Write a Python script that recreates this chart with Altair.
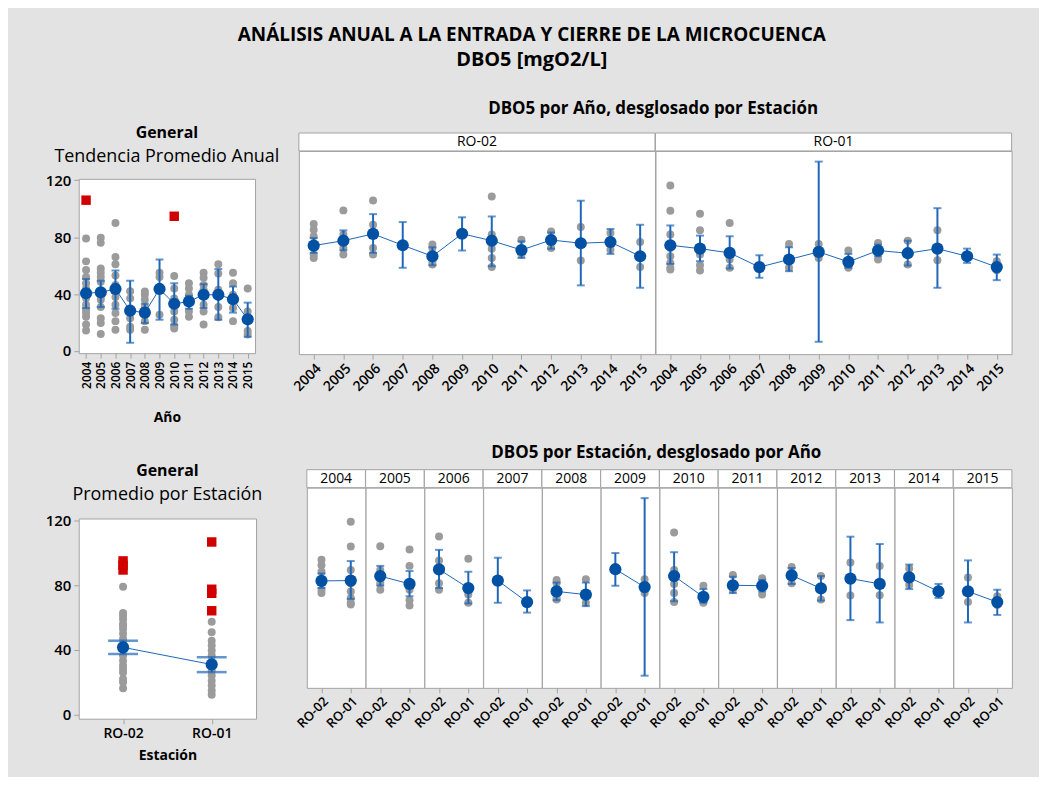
import altair as alt
import pandas as pd

# ---------------- data ----------------
YEARS = ["2004", "2005", "2006", "2007", "2008", "2009",
         "2010", "2011", "2012", "2013", "2014", "2015"]
STATIONS = ["RO-02", "RO-01"]

# General trend per year (top-left panel)
GEN_MEAN = [40.6, 41.3, 43.6, 28.3, 27.0, 43.6, 33.2, 34.8, 39.5, 39.5, 36.4, 22.3]
GEN_LO = [30.2, 30.9, 29.7, 5.8, 19.7, 22.0, 18.6, 29.7, 30.2, 22.0, 27.0, 10.0]
GEN_HI = [50.6, 49.4, 56.6, 49.4, 33.2, 64.3, 47.6, 38.8, 47.0, 57.6, 45.3, 34.0]
GEN_POINTS = [
    [79, 63, 57, 52, 47.6, 44, 42, 37, 32.5, 29, 26.7, 24, 18.6, 14.4],
    [79.6, 76, 58, 55, 52, 48.7, 42, 38, 36, 31, 23, 19.7, 12],
    [90, 66, 61, 53, 46.4, 38, 32.5, 26.7, 21, 15],
    [42, 37, 30, 23, 17, 15],
    [41.8, 39.5, 36, 31, 27.8, 21, 15],
    [55, 52, 25.5],
    [52.7, 44, 37, 32.5, 27.8, 22, 17.4, 15.8],
    [47.6, 44, 39.5, 34.8, 27.8, 24],
    [55, 51.5, 46.4, 43, 32.5, 27.8, 18.6],
    [61, 54.5, 43, 31, 23.7],
    [55, 47.6, 39.5, 30.2, 21],
    [44, 27.8, 21, 14, 11.6],
]
GEN_OUT_YEAR = ["2004", "2010"]
GEN_OUT_VALUE = [106, 94.7]

# Per station and year (right panels)
RO02_MEAN = [64.1, 67.0, 71.0, 64.3, 57.8, 71.1, 67.0, 61.5, 67.4, 65.5, 66.2, 57.8]
RO02_LO = [59.8, 61.3, 59.8, 51.0, 52.5, 61.2, 51.9, 56.8, 62.3, 40.6, 59.2, 39.2]
RO02_HI = [68.6, 73.1, 82.7, 78.0, 63.1, 80.8, 81.3, 66.6, 71.9, 90.6, 73.9, 76.4]
RO02_POINTS = [
    [76.8, 73.5, 69.6, 58.8, 56.8],
    [84.9, 70.6, 62.7, 58.8],
    [90.7, 76.4, 62.7, 58.8],
    [],
    [64.7, 62.7, 54.5, 52.9],
    [],
    [93.1, 70.6, 62.3, 56.8, 51.4],
    [67.6, 58.8],
    [72.5, 62.7],
    [75.1, 55.3],
    [71.5, 61.7],
    [66.2, 51.4],
]
RO01_MEAN = [64.3, 62.3, 59.8, 51.4, 55.9, 60.4, 54.5, 61.2, 59.6, 62.3, 57.8, 51.4]
RO01_LO = [53.3, 54.9, 50.6, 45.1, 49.0, 7.3, 51.0, 57.8, 52.3, 39.2, 53.9, 43.7]
RO01_HI = [76.0, 70.0, 69.6, 58.4, 63.1, 113.7, 59.2, 64.7, 67.0, 86.2, 62.3, 58.8]
RO01_POINTS = [
    [99.6, 84.7, 70.6, 62.7, 57.8, 53.9, 51.0, 50.0],
    [82.9, 73.1, 60.8, 58.8, 52.5, 49.4],
    [77.4, 55.9, 51.0],
    [],
    [65.1, 51.0],
    [65.1, 56.8],
    [61.2, 51.0],
    [65.7, 55.9],
    [67.0, 52.9],
    [73.1, 55.5],
    [],
    [54.9, 49.6],
]

# General per station (bottom-left panel)
ST_MEAN = [41.6, 31.0]
ST_LO = [37.5, 26.3]
ST_HI = [45.7, 35.5]
ST_POINTS = [
    [79, 62.8, 61, 59, 56, 55, 53, 50, 46.8, 43.7, 40.6, 36.5, 33.4, 30.4,
     28.3, 26, 22, 20, 16.4],
    [57.4, 50.9, 45.7, 42.7, 39.6, 36.5, 33.4, 30.4, 27.3, 24.2, 21, 18, 15, 12.3],
]
ST_OUT = [[95, 92.3, 89.4], [106.7, 77.5, 75, 64.2]]

# ---------------- style ----------------
FONT = "Open Sans"
BG = "#e3e3e3"
GRAY = "#9b9b9b"
RED = "#d10000"
BLUE = "#0050a4"
BAR = "#1f67b8"
FRAME = "#a3a3a3"


def points_df(groups, lists, key):
    rows = []
    for g, vals in zip(groups, lists):
        for v in vals:
            rows.append({key: g, "v": v})
    return pd.DataFrame(rows, columns=[key, "v"])


def summary_df(groups, mean, lo, hi, key):
    return pd.DataFrame({key: groups, "mean": mean, "lo": lo, "hi": hi})


def panel(pts, outs, summ, key, xdom, ydom, xaxis, yaxis, cap, width, height,
          header=None, title=None, capw=2):
    xs = alt.Scale(type="point", domain=xdom, padding=0.5)
    ys = alt.Scale(domain=ydom, nice=False, zero=False)
    X = alt.X(f"{key}:N", scale=xs, axis=xaxis)

    def Y(f):
        return alt.Y(f"{f}:Q", scale=ys, axis=yaxis)

    layers = []
    if header is not None:
        hdf = pd.DataFrame({"lab": [header]})
        layers.append(alt.Chart(hdf).mark_rect(fill="white", stroke=FRAME, strokeWidth=1).encode(
            x=alt.value(0), x2=alt.value(width), y=alt.value(-18), y2=alt.value(0)))
        layers.append(alt.Chart(hdf).mark_text(font=FONT, fontSize=14, fontWeight="normal",
                                               color="black", baseline="middle", align="center").encode(
            x=alt.value(width / 2), y=alt.value(-9), text="lab:N"))
    if len(pts):
        layers.append(alt.Chart(pts).mark_circle(color=GRAY, size=64, opacity=1).encode(x=X, y=Y("v")))
    if outs is not None and len(outs):
        layers.append(alt.Chart(outs).mark_square(color=RED, size=90, opacity=1).encode(x=X, y=Y("v")))
    base = alt.Chart(summ)
    layers.append(base.mark_rule(color=BAR, strokeWidth=2).encode(x=X, y=Y("lo"), y2="hi:Q"))
    layers.append(base.mark_tick(color=BAR, thickness=capw, size=cap).encode(x=X, y=Y("lo")))
    layers.append(base.mark_tick(color=BAR, thickness=capw, size=cap).encode(x=X, y=Y("hi")))
    layers.append(base.mark_line(color=BAR, strokeWidth=1).encode(x=X, y=Y("mean")))
    layers.append(base.mark_circle(color=BLUE, size=150, opacity=1).encode(x=X, y=Y("mean")))
    ch = alt.layer(*layers).properties(width=width, height=height)
    if title is not None:
        ch = ch.properties(title=title)
    return ch


def spacer():
    # invisible 1x1 element used only to push the left panels down
    return alt.Chart(pd.DataFrame({"a": [0]})).mark_point(opacity=0).encode(
        x=alt.value(0), y=alt.value(0)).properties(
        width=1, height=1, view=alt.ViewBackground(stroke="transparent", fill="transparent"))


yaxis_left = alt.Axis(values=[0, 40, 80, 120], title="", labelFontSize=15, labelFontWeight=600,
                      tickSize=5, tickColor=FRAME, domain=False, grid=False, labelPadding=3)


def left_title(sub, offset):
    return alt.TitleParams("General", subtitle=sub, fontSize=16, fontWeight="bold",
                           subtitleFontSize=18, subtitleColor="black", subtitlePadding=7,
                           anchor="middle", offset=offset, font=FONT, subtitleFont=FONT)


# top-left
tl_x_axis = alt.Axis(title="Año", labelAngle=-90, labelFontSize=12, labelFontWeight=600,
                     titleFontSize=14, titleFontWeight="bold", tickSize=5, tickColor=FRAME,
                     domain=False, labelPadding=3, titlePadding=22, labelAlign="right",
                     labelBaseline="middle")
TL = panel(points_df(YEARS, GEN_POINTS, "Año"),
           pd.DataFrame({"Año": GEN_OUT_YEAR, "v": GEN_OUT_VALUE}),
           summary_df(YEARS, GEN_MEAN, GEN_LO, GEN_HI, "Año"),
           "Año", YEARS, [-1.5, 121], tl_x_axis, yaxis_left, 8, 177, 175,
           title=left_title("Tendencia Promedio Anual", 7))

# top-right
tr_x_axis = alt.Axis(title="", labelAngle=-45, labelFontSize=14, labelFontWeight=600,
                     tickSize=5, tickColor=FRAME, domain=False, labelPadding=2)
TR = []
for st, mean, lo, hi, pts in [("RO-02", RO02_MEAN, RO02_LO, RO02_HI, RO02_POINTS),
                              ("RO-01", RO01_MEAN, RO01_LO, RO01_HI, RO01_POINTS)]:
    TR.append(panel(points_df(YEARS, pts, "Año"), None,
                    summary_df(YEARS, mean, lo, hi, "Año"),
                    "Año", YEARS, [0, 120], tr_x_axis, None, 8, 357.5, 204, header=st))

# bottom-left
bl_x_axis = alt.Axis(title="Estación", labelAngle=0, labelFontSize=14, labelFontWeight=600,
                     titleFontSize=14, titleFontWeight="bold", tickSize=5, tickColor=FRAME,
                     domain=False, labelPadding=3, titlePadding=8)
BL = panel(points_df(STATIONS, ST_POINTS, "Estación"),
           points_df(STATIONS, ST_OUT, "Estación"),
           summary_df(STATIONS, ST_MEAN, ST_LO, ST_HI, "Estación"),
           "Estación", STATIONS, [-2.5, 121.2], bl_x_axis, yaxis_left, 30, 178, 201,
           title=left_title("Promedio por Estación", 10), capw=2.5)

# bottom-right
br_x_axis = alt.Axis(title="", labelAngle=-45, labelFontSize=13, labelFontWeight=600,
                     tickSize=5, tickColor=FRAME, domain=False, labelPadding=2)
BR = []
for i, yr in enumerate(YEARS):
    means = [RO02_MEAN[i], RO01_MEAN[i]]
    los = [RO02_LO[i], RO01_LO[i]]
    his = [RO02_HI[i], RO01_HI[i]]
    pts = [RO02_POINTS[i], RO01_POINTS[i]]
    BR.append(panel(points_df(STATIONS, pts, "Estación"), None,
                    summary_df(STATIONS, means, los, his, "Estación"),
                    "Estación", STATIONS, [0, 120], br_x_axis, None, 8, 58.8, 201, header=yr))

TL_group = alt.vconcat(spacer(), TL, spacing=-31)
BL_group = alt.vconcat(spacer(), BL, spacing=-30)

row1 = alt.hconcat(TL_group, alt.hconcat(*TR, spacing=0, bounds="flush"), spacing=10).properties(
    title=alt.TitleParams("DBO5 por Año, desglosado por Estación", fontSize=17, fontWeight="bold",
                          anchor="middle", dx=125, offset=7, font=FONT))
row2 = alt.hconcat(BL_group, alt.hconcat(*BR, spacing=0, bounds="flush"), spacing=31).properties(
    title=alt.TitleParams("DBO5 por Estación, desglosado por Año", fontSize=17, fontWeight="bold",
                          anchor="middle", dx=128, offset=0, font=FONT))

chart = alt.vconcat(row1, row2, spacing=19).properties(
    title=alt.TitleParams("ANÁLISIS ANUAL A LA ENTRADA Y CIERRE DE LA MICROCUENCA",
                          subtitle="DBO5 [mgO2/L]", fontSize=19, fontWeight="bold",
                          subtitleFontSize=20, subtitleFontWeight="bold", subtitleColor="black",
                          subtitlePadding=5, anchor="middle", dx=3, offset=30, font=FONT,
                          subtitleFont=FONT),
    padding={"left": 36, "top": 16, "right": 26, "bottom": 12},
).configure(background=BG, font=FONT).configure_view(stroke=FRAME, fill="white").configure_title(
    color="black").configure_axis(labelColor="black", titleColor="black", labelFont=FONT,
                                  titleFont=FONT)

chart.save("out.html", embed_options={"renderer": "svg", "actions": False})
